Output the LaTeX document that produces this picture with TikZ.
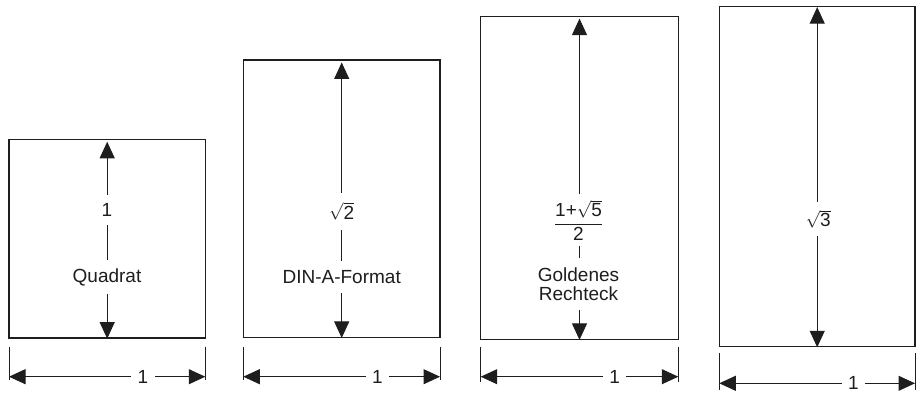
\documentclass[tikz,border=0pt]{standalone}
\usepackage{fontspec}
\setmainfont{Liberation Sans}
\usepackage{amsmath}
\usetikzlibrary{arrows.meta,calc}
\definecolor{ink}{HTML}{1E1E1E}
\tikzset{
  rectbox/.style={draw=ink, line width=1.2pt, inner sep=0pt},
  dimarrow/.style={draw=ink, line width=1pt, {Triangle[length=16.5pt,width=15pt]}-{Triangle[length=16.5pt,width=15pt]}},
  tickline/.style={draw=ink, line width=1pt},
  lbl/.style={fill=white, text=ink, inner xsep=3pt, inner ysep=9pt, font=\fontsize{19}{18.5}\selectfont, align=center},
  hlbl/.style={fill=white, text=ink, inner xsep=6.5pt, inner ysep=1pt, font=\fontsize{19}{18.5}\selectfont}
}
\newcommand\mydimline[7]{%
  % #1 name, #2 left x, #3 right x, #4 tick top, #5 tick bottom, #6 arrow y, #7 label y
  \coordinate (#1ta) at (#2,#4);
  \coordinate (#1tb) at (#2,#5);
  \coordinate (#1tc) at (#3,#4);
  \coordinate (#1td) at (#3,#5);
  \coordinate (#1al) at (#2,#6);
  \coordinate (#1ar) at (#3,#6);
  \draw[tickline] (#1ta) -- (#1tb);
  \draw[tickline] (#1tc) -- (#1td);
  \draw[dimarrow] (#1al) -- (#1ar);
  \node[hlbl] (#1lab) at ($(#1al)+(134,0)$ |- 0,#7) {1};
}
\begin{document}
\begin{tikzpicture}[x=1pt,y=-1pt]
\useasboundingbox (0,0) rectangle (920,394);

% rectangles
\node[rectbox, minimum width=196.3pt, minimum height=198.7pt] (r1) at (107.2,238.7) {};
\node[rectbox, minimum width=196.7pt, minimum height=277.3pt] (r2) at (341.7,198.7) {};
\node[rectbox, minimum width=197.6pt, minimum height=322.6pt] (r3) at (579.5,178) {};
\node[rectbox, minimum width=195.7pt, minimum height=340pt] (r4) at (817.2,176.7) {};

% vertical arrows
\draw[dimarrow] (r1.south) -- ($(r1.north)+(0,3)$);
\draw[dimarrow] (r2.south) -- ($(r2.north)+(0,3)$);
\draw[dimarrow] (r3.south) -- ($(r3.north)+(0,2.5)$);
\draw[dimarrow] (r4.south) -- ($(r4.north)+(0,1)$);

% vertical labels
\node[lbl, inner ysep=8pt] (l1a) at (107,210) {1};
\node[lbl, inner ysep=8pt] (l1b) at (107,277) {Quadrat};
\node[lbl, inner ysep=10pt] (l2a) at (341.7,211.5) {$\sqrt{\text{2}}$};
\node[lbl, inner ysep=9.5pt] (l2b) at (341.7,276.7) {DIN-A-Format};
\node[lbl, inner ysep=6pt] (l3a) at (578.5,220) {$\dfrac{\text{1+}\sqrt{\text{5}}}{\text{2}}$};
\node[lbl, inner ysep=10pt] (l3b) at (578.5,284) {Goldenes\\Rechteck};
\node[lbl, inner ysep=8pt] (l4a) at (818.3,219) {$\sqrt{\text{3}}$};

% dimension lines
\mydimline{d1}{9}{205.3}{346.7}{380}{376.7}{380}
\mydimline{d2}{243.3}{440}{346.7}{380}{376.7}{380}
\mydimline{d3}{480.7}{678.3}{346.7}{381.7}{376.7}{380}
\mydimline{d4}{719.3}{915}{353.3}{390}{383.3}{385}
\end{tikzpicture}
\end{document}
